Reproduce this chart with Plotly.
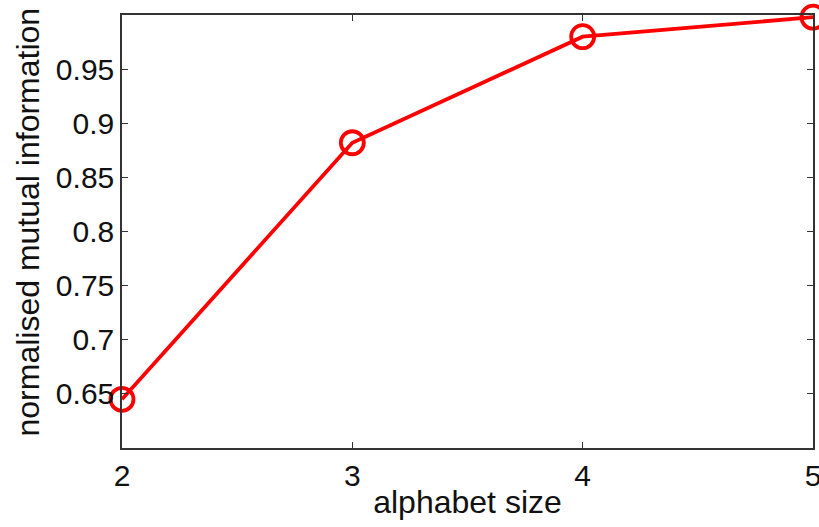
import plotly.graph_objects as go

alphabet_size = [2, 3, 4, 5]
nmi = [0.645, 0.882, 0.980, 0.998]
x_ticks = [2, 3, 4, 5]
y_ticks = [0.65, 0.7, 0.75, 0.8, 0.85, 0.9, 0.95]
y_tick_labels = ["0.65", "0.7", "0.75", "0.8", "0.85", "0.9", "0.95"]
x_title = "alphabet size"
y_title = "normalised mutual information"

FONT = "Liberation Sans, Arial"
FS_TICK = 30
FS_TITLE = 32

fig = go.Figure()
fig.add_trace(go.Scatter(
    x=alphabet_size, y=nmi, mode="lines+markers",
    line=dict(color="#ff0000", width=3.8),
    marker=dict(symbol="circle-open", size=23, color="#ff0000",
                line=dict(width=3.8, color="#ff0000")),
    cliponaxis=False, showlegend=False,
))

axis_common = dict(
    showgrid=False, zeroline=False, showline=True, linecolor="#333333",
    linewidth=1.5, mirror="ticks", ticks="inside", ticklen=6,
    tickcolor="#333333", tickwidth=1.2, ticklabeloverflow="allow",
    automargin=False,
    tickfont=dict(family=FONT, size=FS_TICK, color="#111111"),
    title_font=dict(family=FONT, size=FS_TITLE, color="#111111"),
)

fig.update_xaxes(range=[2, 5], tickvals=x_ticks, ticktext=[str(v) for v in x_ticks],
                 title_text=x_title, title_standoff=0, **axis_common)
fig.update_yaxes(range=[0.6, 1.0], tickvals=y_ticks, ticktext=y_tick_labels,
                 **axis_common)

fig.add_annotation(
    text=y_title, xref="paper", yref="paper", x=0, y=0.5,
    xshift=-95, yshift=9, textangle=-90, showarrow=False,
    xanchor="center", yanchor="middle",
    font=dict(family=FONT, size=FS_TITLE, color="#111111"),
)

fig.update_layout(
    width=819, height=527,
    margin=dict(l=122, r=6, t=15, b=79),
    paper_bgcolor="white", plot_bgcolor="white",
)

fig.write_html("out.html")
